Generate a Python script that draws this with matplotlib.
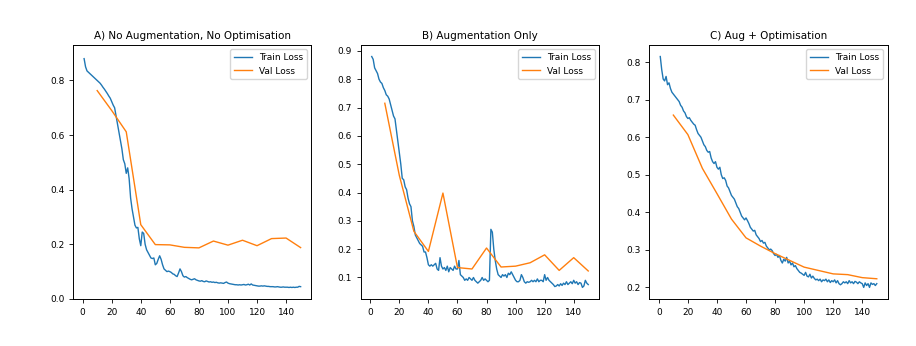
import numpy as np
from matplotlib import pyplot as plt
from matplotlib.ticker import MultipleLocator

epochs = np.arange(1, 151)
val_epochs = np.arange(10, 151, 10)

titles = ["A) No Augmentation, No Optimisation", "B) Augmentation Only", "C) Aug + Optimisation"]

train_a = [
    0.880, 0.850, 0.835, 0.830, 0.825, 0.820, 0.815, 0.810, 0.805, 0.800,
    0.795, 0.790, 0.783, 0.775, 0.768, 0.760, 0.752, 0.743, 0.735, 0.722,
    0.710, 0.700, 0.670, 0.640, 0.610, 0.580, 0.550, 0.510, 0.495, 0.460,
    0.480, 0.440, 0.370, 0.330, 0.300, 0.270, 0.260, 0.262, 0.220, 0.195,
    0.245, 0.240, 0.200, 0.180, 0.170, 0.160, 0.150, 0.148, 0.150, 0.125,
    0.130, 0.145, 0.158, 0.145, 0.125, 0.110, 0.105, 0.100, 0.102, 0.100,
    0.097, 0.092, 0.090, 0.085, 0.082, 0.095, 0.110, 0.100, 0.085, 0.080,
    0.082, 0.078, 0.075, 0.072, 0.070, 0.072, 0.074, 0.070, 0.068, 0.066,
    0.065, 0.067, 0.064, 0.063, 0.066, 0.064, 0.062, 0.063, 0.061, 0.062,
    0.060, 0.061, 0.059, 0.058, 0.059, 0.058, 0.057, 0.060, 0.062, 0.058,
    0.056, 0.055, 0.054, 0.053, 0.052, 0.052, 0.051, 0.052, 0.051, 0.052,
    0.053, 0.051, 0.052, 0.054, 0.051, 0.055, 0.051, 0.050, 0.049, 0.048,
    0.047, 0.047, 0.048, 0.047, 0.048, 0.047, 0.046, 0.046, 0.045, 0.045,
    0.045, 0.044, 0.044, 0.045, 0.044, 0.043, 0.043, 0.044, 0.043, 0.043,
    0.043, 0.042, 0.043, 0.042, 0.043, 0.042, 0.043, 0.043, 0.046, 0.045,
]
val_a = [0.763, 0.690, 0.612, 0.272, 0.199, 0.198, 0.189, 0.187,
         0.212, 0.197, 0.215, 0.195, 0.221, 0.223, 0.188]

train_b = [
    0.880, 0.870, 0.840, 0.830, 0.820, 0.800, 0.790, 0.785, 0.770, 0.760,
    0.745, 0.740, 0.730, 0.710, 0.690, 0.670, 0.660, 0.620, 0.580, 0.540,
    0.500, 0.450, 0.445, 0.420, 0.410, 0.380, 0.360, 0.350, 0.300, 0.280,
    0.250, 0.240, 0.230, 0.220, 0.215, 0.210, 0.190, 0.190, 0.170, 0.145,
    0.140, 0.145, 0.140, 0.145, 0.150, 0.130, 0.125, 0.170, 0.140, 0.130,
    0.135, 0.125, 0.140, 0.120, 0.135, 0.130, 0.125, 0.140, 0.130, 0.130,
    0.160, 0.110, 0.105, 0.100, 0.090, 0.095, 0.090, 0.100, 0.095, 0.090,
    0.100, 0.090, 0.085, 0.080, 0.085, 0.090, 0.100, 0.090, 0.095, 0.090,
    0.085, 0.090, 0.270, 0.260, 0.200, 0.160, 0.130, 0.110, 0.105, 0.100,
    0.110, 0.105, 0.110, 0.100, 0.115, 0.110, 0.120, 0.110, 0.100, 0.090,
    0.085, 0.085, 0.090, 0.110, 0.100, 0.085, 0.080, 0.085, 0.083, 0.085,
    0.090, 0.085, 0.090, 0.085, 0.095, 0.085, 0.090, 0.090, 0.085, 0.110,
    0.090, 0.100, 0.090, 0.085, 0.080, 0.075, 0.068, 0.070, 0.075, 0.070,
    0.078, 0.072, 0.080, 0.075, 0.085, 0.075, 0.080, 0.085, 0.078, 0.090,
    0.080, 0.085, 0.075, 0.082, 0.080, 0.065, 0.070, 0.090, 0.080, 0.075,
]
val_b = [0.715, 0.460, 0.263, 0.192, 0.398, 0.135, 0.130, 0.204,
         0.137, 0.140, 0.152, 0.180, 0.125, 0.170, 0.123]

train_c = [
    0.815, 0.780, 0.755, 0.750, 0.762, 0.740, 0.745, 0.730, 0.720, 0.715,
    0.710, 0.705, 0.700, 0.695, 0.685, 0.680, 0.670, 0.665, 0.655, 0.650,
    0.652, 0.645, 0.640, 0.635, 0.632, 0.620, 0.610, 0.605, 0.600, 0.590,
    0.580, 0.575, 0.565, 0.560, 0.562, 0.545, 0.535, 0.530, 0.535, 0.520,
    0.515, 0.520, 0.500, 0.490, 0.492, 0.485, 0.470, 0.465, 0.455, 0.445,
    0.440, 0.435, 0.425, 0.415, 0.410, 0.400, 0.390, 0.385, 0.380, 0.385,
    0.378, 0.370, 0.360, 0.355, 0.350, 0.352, 0.340, 0.335, 0.330, 0.322,
    0.325, 0.318, 0.320, 0.310, 0.305, 0.300, 0.302, 0.298, 0.290, 0.285,
    0.288, 0.280, 0.285, 0.272, 0.265, 0.275, 0.270, 0.280, 0.265, 0.270,
    0.260, 0.265, 0.255, 0.258, 0.250, 0.245, 0.240, 0.238, 0.235, 0.232,
    0.240, 0.230, 0.228, 0.235, 0.225, 0.230, 0.224, 0.220, 0.222, 0.218,
    0.222, 0.215, 0.220, 0.218, 0.222, 0.215, 0.220, 0.213, 0.218, 0.215,
    0.220, 0.212, 0.218, 0.210, 0.207, 0.210, 0.215, 0.212, 0.215, 0.210,
    0.218, 0.212, 0.215, 0.210, 0.216, 0.214, 0.210, 0.215, 0.212, 0.210,
    0.200, 0.212, 0.205, 0.210, 0.200, 0.212, 0.208, 0.210, 0.205, 0.210,
]
val_c = [0.659, 0.607, 0.517, 0.450, 0.382, 0.332, 0.310, 0.290,
         0.272, 0.254, 0.245, 0.236, 0.234, 0.226, 0.223]

trains = [train_a, train_b, train_c]
vals = [val_a, val_b, val_c]

fig = plt.figure(figsize=(9.16, 3.46), dpi=100)
lefts = [0.080, 0.394, 0.709]

for i in range(3):
    ax = fig.add_axes([lefts[i], 0.136, 0.260, 0.734])
    ax.plot(epochs, trains[i], color='tab:blue', linewidth=1.0, label='Train Loss')
    ax.plot(val_epochs, vals[i], color='tab:orange', linewidth=1.0, label='Val Loss')
    ax.set_title(titles[i], fontsize=7.5, pad=4)
    ax.xaxis.set_major_locator(MultipleLocator(20))
    ax.tick_params(labelsize=6.5, length=3, width=0.6)
    for s in ax.spines.values():
        s.set_linewidth(0.7)
    ax.legend(loc='upper right', fontsize=6.5)
    if i == 0:
        ax.set_ylim(0, 0.93)

plt.savefig('out.png', dpi=100)
